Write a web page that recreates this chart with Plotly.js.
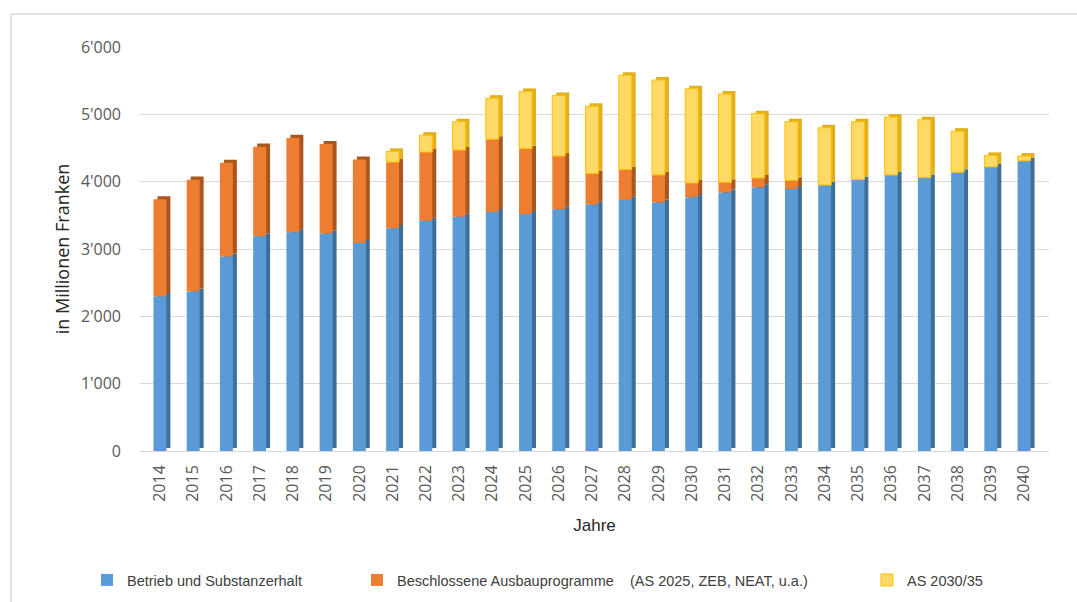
<!DOCTYPE html>
<html>
<head>
<meta charset="utf-8">
<script src="https://cdn.plot.ly/plotly-3.0.1.min.js"></script>
<style>
  html, body { margin: 0; padding: 0; background: #ffffff; }
  #chart { width: 1077px; height: 602px; }
</style>
</head>
<body>
<div id="chart"></div>
<script>
// ---- data (values in Mio. CHF) ----
var years = ['2014','2015','2016','2017','2018','2019','2020','2021','2022','2023','2024','2025','2026','2027',
             '2028','2029','2030','2031','2032','2033','2034','2035','2036','2037','2038','2039','2040'];
var betrieb = [2300, 2370, 2890, 3190, 3250, 3230, 3090, 3310, 3420, 3480, 3550, 3520, 3590, 3660,
               3730, 3690, 3770, 3840, 3915, 3890, 3950, 4030, 4100, 4060, 4140, 4220, 4310];
var ausbau  = [1440, 1660, 1390, 1330, 1400, 1330, 1240, 980, 1020, 990, 1080, 970, 790, 460,
               450, 410, 210, 150, 140, 130, 0, 0, 0, 0, 0, 0, 0];
var as2030  = [0, 0, 0, 0, 0, 0, 0, 160, 250, 420, 610, 850, 900, 1000,
               1400, 1410, 1400, 1310, 955, 870, 850, 860, 860, 860, 610, 170, 70];
var seriesNames = ['Betrieb und Substanzerhalt',
                   'Beschlossene Ausbauprogramme \u00a0\u00a0\u00a0(AS 2025, ZEB, NEAT, u.a.)',
                   'AS 2030/35'];
var yTickVals = [0, 1000, 2000, 3000, 4000, 5000, 6000];
var yTickText = ['0', "1'000", "2'000", "3'000", "4'000", "5'000", "6'000"];

// ---- styling ----
var frontCol = ['#5b9bd5', '#ed7d31', '#ffd966'];
var sideCol  = ['#3e6e9a', '#a9561f', '#e0b020'];
var lineCol  = ['#5b9bd5', '#ed7d31', '#ffc000'];
var W = 0.39, DX = 0.12, DY = 45;

function nz(a) { return a.map(function (v) { return v > 0 ? v : null; }); }
function add(a, b) { return a.map(function (v, i) { return v + b[i]; }); }

var vals = [betrieb, ausbau, as2030];
var zeros = years.map(function () { return 0; });
var bases = [zeros, betrieb.slice(), add(betrieb, ausbau)];

var traces = [];
// side / top faces (drawn first, shifted right and up)
for (var s = 0; s < 3; s++) {
  traces.push({
    type: 'bar', x: years, y: nz(vals[s]),
    base: bases[s].map(function (v) { return v + DY; }),
    width: W, offset: -W / 2 + DX,
    marker: { color: sideCol[s], line: { width: 0 } },
    showlegend: false, hoverinfo: 'skip'
  });
}
// front faces
var legendIds = ['legend', 'legend2', 'legend3'];
for (var s2 = 0; s2 < 3; s2++) {
  traces.push({
    type: 'bar', x: years, y: nz(vals[s2]), base: bases[s2],
    width: W, offset: -W / 2,
    name: seriesNames[s2],
    legend: legendIds[s2],
    marker: { color: frontCol[s2], line: { color: lineCol[s2], width: s2 === 2 ? 1 : 0 } }
  });
}

var L = 140, R = 28, T = 47, B = 151;
var pw = 1077 - L - R, ph = 602 - T - B;
function px(xp) { return (xp - L) / pw; }
function py(yp) { return (602 - B - yp) / ph; }

var legFont = { family: 'Liberation Sans, Arial, sans-serif', size: 14.5, color: '#404040' };
function leg(xpix) {
  return {
    xref: 'container', yref: 'container',
    x: xpix / 1077, y: (602 - 580) / 602, xanchor: 'left', yanchor: 'middle',
    orientation: 'h', font: legFont, bgcolor: 'rgba(0,0,0,0)', itemwidth: 30
  };
}

var layout = {
  width: 1077, height: 602,
  margin: { l: L, r: R, t: T, b: B, pad: 0 },
  paper_bgcolor: '#ffffff', plot_bgcolor: '#ffffff',
  barmode: 'overlay',
  xaxis: {
    type: 'category', range: [-0.6, 26.75],
    tickangle: -90, ticks: '', showgrid: false, zeroline: false, showline: false,
    tickfont: { family: 'Open Sans, sans-serif', size: 16, color: '#595959' },
    ticklabelstandoff: 10,
    title: { text: 'Jahre', standoff: 18,
             font: { family: 'Liberation Sans, Arial, sans-serif', size: 17, color: '#262626' } },
    automargin: false
  },
  yaxis: {
    range: [0, 6000], tickvals: yTickVals, ticktext: yTickText,
    showgrid: true, gridcolor: '#d9d9d9', gridwidth: 1,
    zeroline: true, zerolinecolor: '#d9d9d9', zerolinewidth: 1,
    showline: false, ticks: '',
    tickfont: { family: 'Open Sans, sans-serif', size: 16, color: '#595959' },
    ticklabelstandoff: 18,
    title: { text: 'in Millionen Franken', standoff: 6,
             font: { family: 'Open Sans, sans-serif', size: 18, color: '#262626' } },
    automargin: false
  },
  legend: leg(87),
  legend2: leg(357),
  legend3: leg(867),
  shapes: [
    { type: 'line', xref: 'paper', yref: 'paper', x0: px(11), x1: px(1080), y0: py(14), y1: py(14),
      line: { color: '#d9d9d9', width: 1.5 } },
    { type: 'line', xref: 'paper', yref: 'paper', x0: px(11), x1: px(11), y0: py(14), y1: py(605),
      line: { color: '#d9d9d9', width: 1.5 } }
  ],
  showlegend: true
};

Plotly.newPlot('chart', traces, layout, { displayModeBar: false, staticPlot: true });
</script>
</body>
</html>
